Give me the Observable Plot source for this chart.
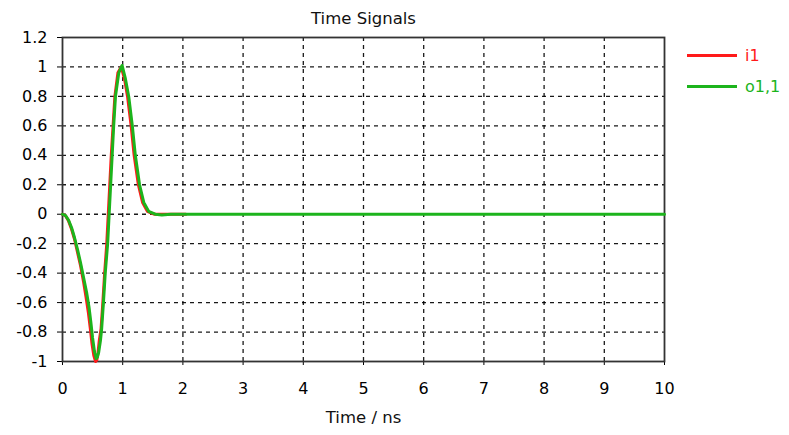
<!DOCTYPE html>
<html>
<head>
<meta charset="utf-8">
<script src="https://cdn.jsdelivr.net/npm/d3@7"></script>
<script src="https://cdn.jsdelivr.net/npm/@observablehq/plot@0.6"></script>
<style>
  html, body { margin: 0; padding: 0; background: #fff; }
  #wrap { position: relative; width: 789px; height: 435px; overflow: hidden; font-family: "DejaVu Sans", Verdana, sans-serif; }
  #chart svg { display: block; }
  .leg { position: absolute; left: 687px; display: flex; align-items: center; font-size: 16px; }
  .leg span.sw { display: inline-block; width: 50px; height: 3px; margin-right: 8px; }
</style>
</head>
<body>
<div id="wrap">
  <div id="chart"></div>
</div>
<script>
// Series names and colours
const seriesNames = ["i1", "o1,1"];
const seriesColors = ["#ff1a1a", "#1cb41c"];

// i1 (input signal), time in ns
const tI1 = [0, 0.05, 0.1, 0.15, 0.2, 0.25, 0.3, 0.35, 0.39, 0.43, 0.46, 0.49, 0.52, 0.55, 0.57, 0.59, 0.61, 0.64, 0.67, 0.70, 0.735, 0.76, 0.785, 0.81, 0.84, 0.87, 0.92, 0.975, 1.03, 1.08, 1.14, 1.19, 1.26, 1.33, 1.41, 1.52, 1.7, 2.05];
const vI1 = [0, -0.01, -0.045, -0.1, -0.17, -0.26, -0.35, -0.46, -0.56, -0.67, -0.77, -0.88, -0.96, -1.0, -0.99, -0.94, -0.86, -0.78, -0.6, -0.4, -0.2, 0, 0.2, 0.4, 0.6, 0.8, 0.96, 1.0, 0.92, 0.8, 0.6, 0.4, 0.2, 0.08, 0.02, 0, 0, 0];

// o1,1 (output signal), time in ns
const tO11 = [0, 0.05, 0.1, 0.15, 0.2, 0.25, 0.3, 0.35, 0.4, 0.44, 0.47, 0.5, 0.53, 0.56, 0.58, 0.60, 0.63, 0.65, 0.68, 0.71, 0.75, 0.775, 0.80, 0.825, 0.85, 0.88, 0.935, 0.99, 1.045, 1.10, 1.16, 1.21, 1.28, 1.35, 1.43, 1.54, 1.65, 1.8, 2.0, 10];
const vO11 = [0, -0.01, -0.04, -0.09, -0.16, -0.24, -0.33, -0.43, -0.53, -0.63, -0.73, -0.84, -0.93, -0.98, -0.97, -0.94, -0.86, -0.78, -0.6, -0.4, -0.2, 0, 0.2, 0.4, 0.6, 0.8, 0.96, 1.01, 0.92, 0.8, 0.6, 0.4, 0.2, 0.08, 0.02, 0, -0.005, 0, 0, 0];

// Axis ticks and labels
const xTicks = [0, 1, 2, 3, 4, 5, 6, 7, 8, 9, 10];
const yTicks = [-1, -0.8, -0.6, -0.4, -0.2, 0, 0.2, 0.4, 0.6, 0.8, 1, 1.2];
const xGrid = [1, 2, 3, 4, 5, 6, 7, 8, 9];
const yGrid = [-0.8, -0.6, -0.4, -0.2, 0, 0.2, 0.4, 0.6, 0.8, 1];
const titleText = "Time Signals";
const xLabel = "Time / ns";

const dataI1 = tI1.map((t, i) => ({t, v: vI1[i]}));
const dataO11 = tO11.map((t, i) => ({t, v: vO11[i]}));

const fmt = d => String(+d.toFixed(1));

const chart = Plot.plot({
  width: 789,
  height: 435,
  marginLeft: 62,
  marginRight: 125,
  marginTop: 37,
  marginBottom: 74,
  style: { fontFamily: "'DejaVu Sans', Verdana, sans-serif", fontSize: "16px", color: "#000", background: "#fff" },
  x: { domain: [0, 10] },
  y: { domain: [-1, 1.2] },
  marks: [
    Plot.gridX(xGrid, { stroke: "#000", strokeOpacity: 0.9, strokeWidth: 1.3, strokeDasharray: "4,4" }),
    Plot.gridY(yGrid, { stroke: "#000", strokeOpacity: 0.9, strokeWidth: 1.3, strokeDasharray: "4,4" }),
    Plot.axisX(xTicks, { tickSize: 4, tickPadding: 17, tickFormat: fmt, label: null, stroke: "#000", fontSize: 16 }),
    Plot.axisY(yTicks, { tickSize: 5, tickPadding: 10, tickFormat: fmt, label: null, stroke: "#000", fontSize: 16 }),
    Plot.frame({ stroke: "#333", strokeWidth: 1.8 }),
    Plot.line(dataI1, { x: "t", y: "v", stroke: seriesColors[0], strokeWidth: 3 }),
    Plot.line(dataO11, { x: "t", y: "v", stroke: seriesColors[1], strokeWidth: 3 }),
    Plot.text([titleText], { frameAnchor: "top", dy: -19, lineAnchor: "middle", fontSize: 16.5, fill: "#111" }),
    Plot.text([xLabel], { frameAnchor: "bottom", dy: 56, lineAnchor: "middle", fontSize: 16.5, fill: "#111" })
  ]
});
document.getElementById("chart").appendChild(chart);

// Legend
const wrap = document.getElementById("wrap");
const legendTops = [46, 77];
seriesNames.forEach((name, i) => {
  const d = document.createElement("div");
  d.className = "leg";
  d.style.top = legendTops[i] + "px";
  d.style.color = seriesColors[i];
  d.innerHTML = `<span class="sw" style="background:${seriesColors[i]}"></span><span>${name}</span>`;
  wrap.appendChild(d);
});
</script>
</body>
</html>
